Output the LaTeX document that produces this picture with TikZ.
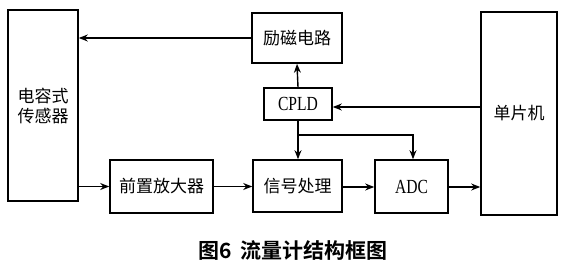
\documentclass[tikz,border=0pt]{standalone}
\usepackage{fontspec}
\setmainfont{Liberation Serif}
\newfontfamily\cond[FakeStretch=0.78]{Liberation Serif}
\newfontfamily\cjk{Noto Sans CJK SC}
\newfontfamily\cjkb{Noto Sans CJK SC Bold}
\usetikzlibrary{arrows.meta}
\begin{document}
\begin{tikzpicture}[x=1pt,y=-1pt,
  blk/.style={draw,line width=1.6pt,inner sep=0pt,font=\cjk\fontsize{17}{20}\selectfont},
  lat/.style={font=\cond\fontsize{20}{22}\selectfont},
  conn/.style={line width=1.4pt,-{Stealth[length=9pt,width=7pt]}}]
\useasboundingbox (0,0) rectangle (565,270);
\node[blk,minimum width=70pt,minimum height=191pt,align=center] (sens) at (43,105.5) {电容式\\传感器};
\node[blk,minimum width=90pt,minimum height=50pt] (lici) at (297,38) {励磁电路};
\node[blk,lat,minimum width=68pt,minimum height=32pt] (cpld) at (298,104) {CPLD};
\node[blk,minimum width=76pt,minimum height=203pt] (mcu) at (519,113.5) {单片机};
\node[blk,minimum width=103pt,minimum height=53pt] (amp) at (161.5,186.5) {前置放大器};
\node[blk,minimum width=89pt,minimum height=52pt] (sig) at (297.5,186) {信号处理};
\node[blk,lat,minimum width=73pt,minimum height=53pt] (adc) at (411.5,186.5) {ADC};
\node[font=\cjkb\fontsize{21}{24}\selectfont] (cap) at (293,250) {图6\ \ 流量计结构框图};
\draw[conn] (lici.west) -- (sens.east |- lici.west);
\draw[conn] (cpld.north) -- (lici.south);
\draw[conn] (mcu.west |- 0,107) -- (cpld.east |- 0,107);
\draw[conn] (cpld.south) -- (sig.north -| cpld.south);
\coordinate (br) at (298,135);
\draw[conn] (br) -- (413,135) -- (adc.north -| 413,0);
\draw[conn] (sens.east |- amp.west) -- (amp.west);
\draw[conn] (amp.east) -- (sig.west |- amp.east);
\draw[conn] (sig.east |- 0,187) -- (adc.west |- 0,187);
\draw[conn] (adc.east |- 0,187) -- (mcu.west |- 0,187);
\end{tikzpicture}
\end{document}
